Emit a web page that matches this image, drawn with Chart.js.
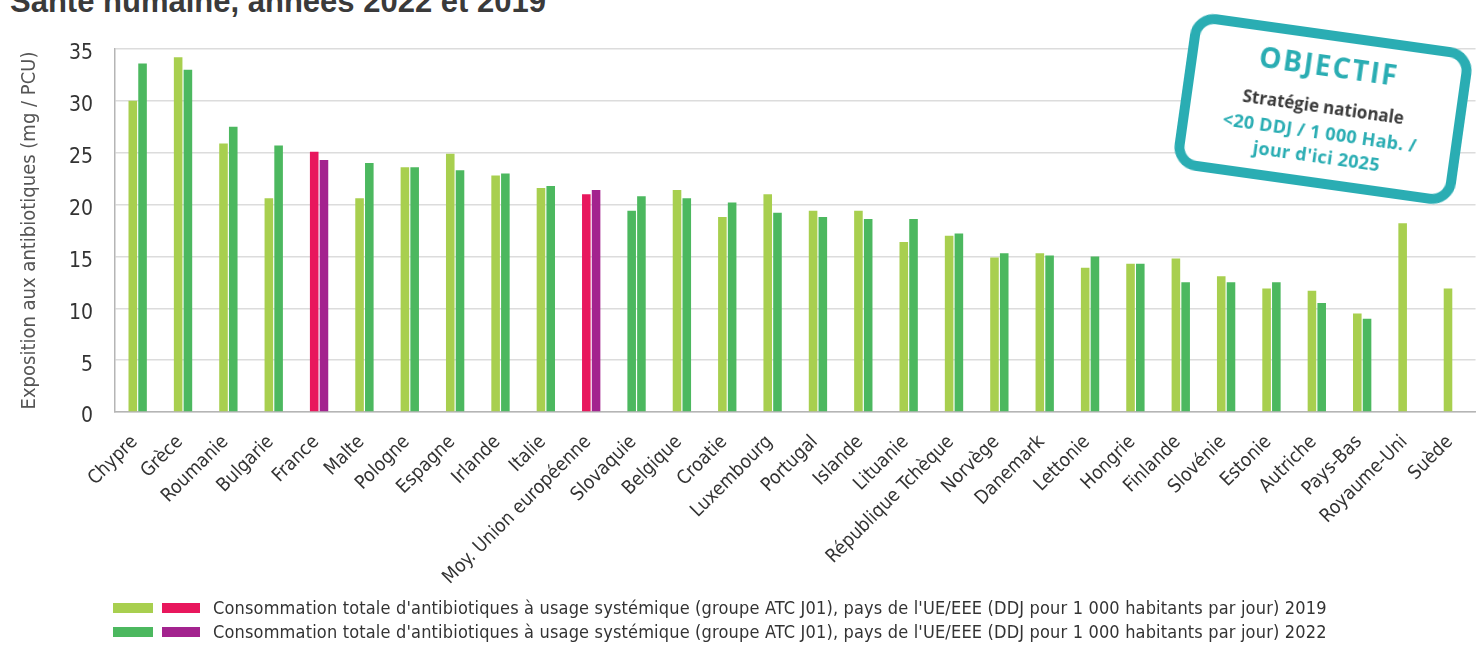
<!DOCTYPE html>
<html lang="fr">
<head>
<meta charset="utf-8">
<script src="https://cdn.jsdelivr.net/npm/chart.js@4"></script>
<style>
	body { margin: 0; background: #fff; overflow: hidden; width: 1476px; height: 647px; position: relative; }
	#title { position: absolute; left: 10px; top: -14px; font: bold 31px 'Liberation Sans', sans-serif; color: #3a3a3a; white-space: nowrap; line-height: 1; }
	#wrap { position: absolute; left: 0; top: 0; width: 1480px; height: 600px; }
	.legend-row { position: absolute; left: 0; height: 20px; font: 18px 'Liberation Sans Narrow', 'DejaVu Sans Condensed', sans-serif; letter-spacing: 0.17px; color: #333; white-space: nowrap; }
	.sw { position: absolute; top: 5px; height: 10px; }
	.legend-row span.txt { position: absolute; left: 213px; top: 0; line-height: 20px; }
	#stamp { position: absolute; left: 1181px; top: 30px; width: 284px; height: 158px; box-sizing: border-box; border: 10px solid #2aadb3; border-radius: 24px; background: #fff; transform: rotate(8deg); text-align: center; font-family: 'Open Sans', sans-serif; font-weight: bold; }
	#stamp div { position: absolute; left: 0; right: 0; white-space: nowrap; }
	#stamp .obj { top: 10px; color: #2aadb3; font-size: 28px; letter-spacing: 2px; line-height: 30px; }
	#stamp .strat { top: 57px; color: #3a3a3a; font-size: 17px; line-height: 20px; }
	#stamp .goal { color: #2aadb3; font-size: 18px; line-height: 24px; letter-spacing: 0.3px; }
</style>
</head>
<body>
<div id="title">Santé humaine, années 2022 et 2019</div>
<div id="wrap"><canvas id="bar-chart"></canvas></div>
<div class="legend-row" style="top:598px">
	<div class="sw" style="left:113px;width:40px;background:#a8cf4f"></div>
	<div class="sw" style="left:162px;width:38px;background:#e8175d"></div>
	<span class="txt" id="legend-2019"></span>
</div>
<div class="legend-row" style="top:622px">
	<div class="sw" style="left:113px;width:40px;background:#4cb85f"></div>
	<div class="sw" style="left:162px;width:38px;background:#a3238e"></div>
	<span class="txt" id="legend-2022"></span>
</div>
<div id="stamp">
	<div class="obj">OBJECTIF</div>
	<div class="strat">Stratégie nationale</div>
	<div class="goal" style="top:80px">&lt;20 DDJ / 1 000 Hab. /</div>
	<div class="goal" style="top:104px">jour d'ici 2025</div>
</div>
<script>
let categories = ['Chypre', 'Grèce', 'Roumanie', 'Bulgarie', 'France', 'Malte', 'Pologne', 'Espagne', 'Irlande', 'Italie',
	'Moy. Union européenne', 'Slovaquie', 'Belgique', 'Croatie', 'Luxembourg', 'Portugal', 'Islande', 'Lituanie',
	'République Tchèque', 'Norvège', 'Danemark', 'Lettonie', 'Hongrie', 'Finlande', 'Slovénie', 'Estonie', 'Autriche',
	'Pays-Bas', 'Royaume-Uni', 'Suède'];
let values_2019 = [30.0, 34.2, 25.9, 20.6, 25.1, 20.6, 23.6, 24.9, 22.8, 21.6, 21.0, 19.4, 21.4, 18.8, 21.0, 19.4, 19.4,
	16.4, 17.0, 14.9, 15.3, 13.9, 14.3, 14.8, 13.1, 11.9, 11.7, 9.5, 18.2, 11.9];
let values_2022 = [33.6, 33.0, 27.5, 25.7, 24.3, 24.0, 23.6, 23.3, 23.0, 21.8, 21.4, 20.8, 20.6, 20.2, 19.2, 18.8, 18.6,
	18.6, 17.2, 15.3, 15.1, 15.0, 14.3, 12.5, 12.5, 12.5, 10.5, 9.0, null, null];
let y_ticks = [0, 5, 10, 15, 20, 25, 30, 35];
let highlight_2019 = ['France', 'Moy. Union européenne'];
let legend_labels = [
	"Consommation totale d'antibiotiques à usage systémique (groupe ATC J01), pays de l'UE/EEE (DDJ pour 1 000 habitants par jour) 2019",
	"Consommation totale d'antibiotiques à usage systémique (groupe ATC J01), pays de l'UE/EEE (DDJ pour 1 000 habitants par jour) 2022"
];

let light_green = '#a8cf4f';
let dark_green = '#4cb85f';
let red = '#e8175d';
let purple = '#a3238e';
let narrow = "'Liberation Sans Narrow', 'DejaVu Sans Condensed', sans-serif";

document.getElementById('legend-2019').textContent = legend_labels[0];
document.getElementById('legend-2022').textContent = legend_labels[1];

//colours per bar: highlighted rows in red/purple, Slovaquie 2019 drawn in the 2022 green
let colors_2019 = categories.map(c => highlight_2019.includes(c) ? red : (c == 'Slovaquie' ? dark_green : light_green));
let colors_2022 = categories.map(c => highlight_2019.includes(c) ? purple : dark_green);

let canvas = document.getElementById('bar-chart');
canvas.width = 1480;
canvas.height = 600;
let bar_chart = new Chart(canvas.getContext('2d'), {
	type: 'bar',
	data: {
		labels: categories,
		datasets: [
			{ label: '2019', data: values_2019, backgroundColor: colors_2019 },
			{ label: '2022', data: values_2022, backgroundColor: colors_2022 }
		]
	},
	options: {
		responsive: false,
		animation: false,
		layout: { padding: { top: 49, left: 0, right: 0, bottom: 0 } },
		datasets: { bar: { categoryPercentage: 0.43, barPercentage: 0.88 } },
		plugins: { legend: { display: false }, tooltip: { enabled: false } },
		scales: {
			x: {
				grid: { display: false },
				border: { color: '#b5b5b5', width: 1.5 },
				ticks: {
					autoSkip: false,
					maxRotation: 45,
					minRotation: 45,
					padding: 11,
					labelOffset: -3,
					color: '#333',
					font: { family: narrow, size: 19 }
				},
				afterFit: function(scale) { scale.height = 188; }
			},
			y: {
				min: 0,
				max: 35,
				afterBuildTicks: function(scale) { scale.ticks = y_ticks.map(v => ({ value: v })); },
				grid: { color: '#dcdcdc', lineWidth: 1.5, drawTicks: false },
				border: { color: '#b5b5b5', width: 1.5 },
				ticks: {
					padding: 22,
					labelOffset: 5,
					color: '#333',
					font: { family: narrow, size: 21 }
				},
				title: {
					display: true,
					text: 'Exposition aux antibiotiques (mg / PCU)',
					color: '#555',
					font: { family: narrow, size: 20 },
					padding: { top: 18, bottom: 0 }
				},
				afterFit: function(scale) { scale.width = 115; }
			}
		}
	}
});
</script>
</body>
</html>
